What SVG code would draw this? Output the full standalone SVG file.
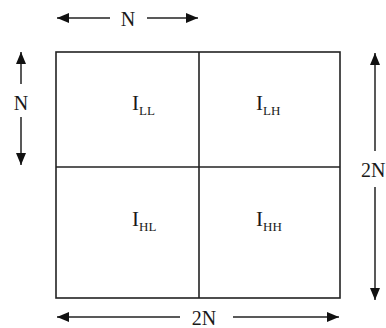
<svg xmlns="http://www.w3.org/2000/svg" width="386" height="328" viewBox="0 0 386 328">
<style>
.box{fill:none;stroke:#222;stroke-width:1.6}
.ln{fill:none;stroke:#222;stroke-width:1.5}
.ah{fill:#111}
text{font-family:"Liberation Serif","Times New Roman",serif;fill:#1a1a1a}
.dim{font-size:20px}
.lbl{font-size:21px}
.sub{font-size:13px}
</style>
<defs>
<marker id="arr" viewBox="0 0 12 10" refX="12" refY="5" markerWidth="12" markerHeight="10" markerUnits="userSpaceOnUse" orient="auto">
<path class="ah" d="M0,0 L12,5 L0,10 Z"/>
</marker>
</defs>
<g id="grid">
<rect class="box" x="56" y="52" width="284" height="246"/>
<line class="box" x1="199" y1="52" x2="199" y2="298"/>
<line class="box" x1="56" y1="167" x2="340" y2="167"/>
</g>
<g id="LL"><text class="lbl" x="132" y="110">I<tspan class="sub" dy="5">LL</tspan></text></g>
<g id="LH"><text class="lbl" x="256" y="110">I<tspan class="sub" dy="5">LH</tspan></text></g>
<g id="HL"><text class="lbl" x="132" y="226">I<tspan class="sub" dy="5">HL</tspan></text></g>
<g id="HH"><text class="lbl" x="256" y="226">I<tspan class="sub" dy="5">HH</tspan></text></g>
<g id="connectors">
<line class="ln" x1="110" y1="18" x2="57" y2="18" marker-end="url(#arr)"/>
<line class="ln" x1="147" y1="18" x2="198" y2="18" marker-end="url(#arr)"/>
<line class="ln" x1="21" y1="84" x2="21" y2="52" marker-end="url(#arr)"/>
<line class="ln" x1="21" y1="117" x2="21" y2="165" marker-end="url(#arr)"/>
<line class="ln" x1="375" y1="151" x2="375" y2="53" marker-end="url(#arr)"/>
<line class="ln" x1="375" y1="187" x2="375" y2="300" marker-end="url(#arr)"/>
<line class="ln" x1="180" y1="317" x2="57" y2="317" marker-end="url(#arr)"/>
<line class="ln" x1="233" y1="317" x2="339" y2="317" marker-end="url(#arr)"/>
</g>
<g id="dims">
<text class="dim" x="128" y="26" text-anchor="middle">N</text>
<text class="dim" x="21" y="110" text-anchor="middle">N</text>
<text class="dim" x="361" y="177">2N</text>
<text class="dim" x="204" y="325" text-anchor="middle">2N</text>
</g>
</svg>
